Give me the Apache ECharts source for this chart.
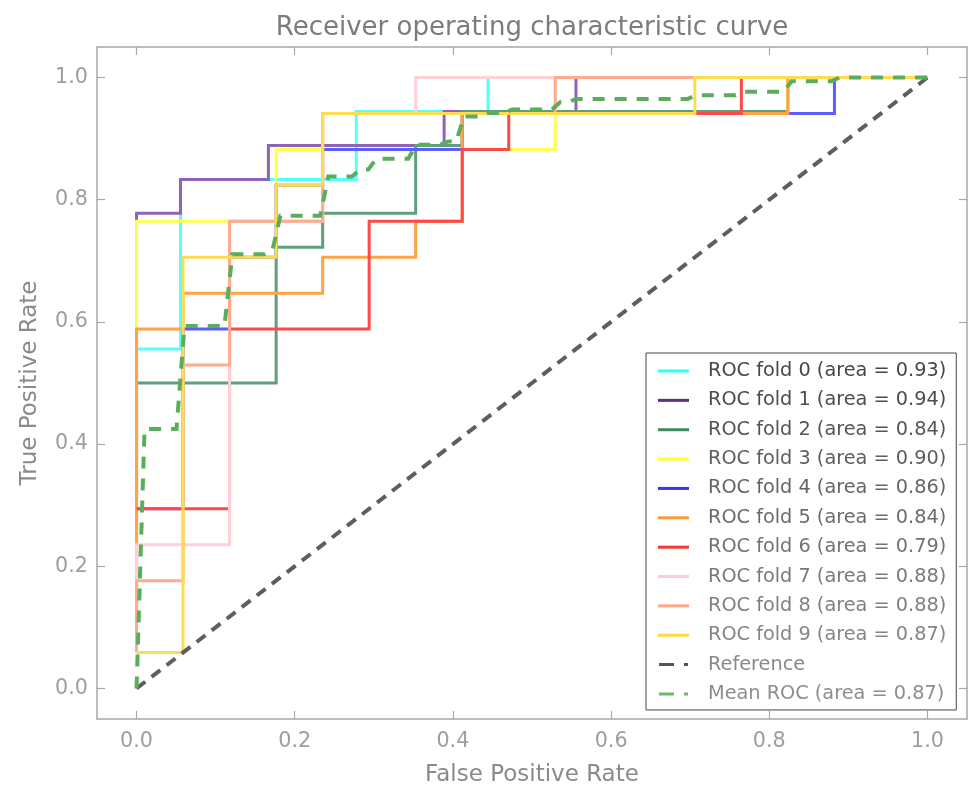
<!DOCTYPE html>
<html>
<head>
<meta charset="utf-8">
<script src="https://cdn.jsdelivr.net/npm/echarts@6/dist/echarts.min.js"></script>
<style>
html,body{margin:0;padding:0;background:#fff;}
#chart{width:972px;height:786px;}
</style>
</head>
<body>
<div id="chart"></div>
<script>
// ---- data ----
const titleText = 'Receiver operating characteristic curve';
const xAxisName = 'False Positive Rate';
const yAxisName = 'True Positive Rate';
const tickValues = [0, 0.2, 0.4, 0.6, 0.8, 1.0];
const tickLabels = ['0.0', '0.2', '0.4', '0.6', '0.8', '1.0'];

const seriesNames = [
  'ROC fold 0 (area = 0.93)', 'ROC fold 1 (area = 0.94)', 'ROC fold 2 (area = 0.84)',
  'ROC fold 3 (area = 0.90)', 'ROC fold 4 (area = 0.86)', 'ROC fold 5 (area = 0.84)',
  'ROC fold 6 (area = 0.79)', 'ROC fold 7 (area = 0.88)', 'ROC fold 8 (area = 0.88)',
  'ROC fold 9 (area = 0.87)', 'Reference', 'Mean ROC (area = 0.87)'
];

const fpr0 = [0, 0, 0.0556, 0.0556, 0.2778, 0.2778, 0.4444, 0.4444, 1];
const tpr0 = [0.1111, 0.5556, 0.5556, 0.8333, 0.8333, 0.9444, 0.9444, 1, 1];
const fpr1 = [0, 0, 0.0556, 0.0556, 0.1667, 0.1667, 0.3889, 0.3889, 0.5556, 0.5556, 1];
const tpr1 = [0.1111, 0.7778, 0.7778, 0.8333, 0.8333, 0.8889, 0.8889, 0.9444, 0.9444, 1, 1];
const fpr2 = [0, 0, 0.1765, 0.1765, 0.2353, 0.2353, 0.3529, 0.3529, 0.4118, 0.4118, 0.8235, 0.8235, 1];
const tpr2 = [0.1111, 0.5, 0.5, 0.7222, 0.7222, 0.7778, 0.7778, 0.8889, 0.8889, 0.9444, 0.9444, 1, 1];
const fpr3 = [0, 0, 0.1765, 0.1765, 0.5294, 0.5294, 0.8235, 0.8235, 1];
const tpr3 = [0.1176, 0.7647, 0.7647, 0.8824, 0.8824, 0.9412, 0.9412, 1, 1];
const fpr4 = [0, 0.0588, 0.0588, 0.1176, 0.1176, 0.1765, 0.1765, 0.2353, 0.2353, 0.4118, 0.4118, 0.8824, 0.8824, 1];
const tpr4 = [0.2941, 0.2941, 0.5882, 0.5882, 0.7059, 0.7059, 0.8235, 0.8235, 0.8824, 0.8824, 0.9412, 0.9412, 1, 1];
const fpr5 = [0, 0, 0.0588, 0.0588, 0.2353, 0.2353, 0.3529, 0.3529, 0.4118, 0.4118, 0.8235, 0.8235, 1];
const tpr5 = [0.1176, 0.5882, 0.5882, 0.6471, 0.6471, 0.7059, 0.7059, 0.7647, 0.7647, 0.9412, 0.9412, 1, 1];
const fpr6 = [0, 0.1176, 0.1176, 0.2941, 0.2941, 0.4118, 0.4118, 0.4706, 0.4706, 0.7647, 0.7647, 1];
const tpr6 = [0.2941, 0.2941, 0.5882, 0.5882, 0.7647, 0.7647, 0.8824, 0.8824, 0.9412, 0.9412, 1, 1];
const fpr7 = [0, 0, 0.1176, 0.1176, 0.2353, 0.2353, 0.3529, 0.3529, 1];
const tpr7 = [0.1176, 0.2353, 0.2353, 0.7647, 0.7647, 0.9412, 0.9412, 1, 1];
const fpr8 = [0, 0, 0.0588, 0.0588, 0.1176, 0.1176, 0.2353, 0.2353, 0.5294, 0.5294, 1];
const tpr8 = [0.0588, 0.1765, 0.1765, 0.5294, 0.5294, 0.7647, 0.7647, 0.9412, 0.9412, 1, 1];
const fpr9 = [0, 0.0588, 0.0588, 0.1765, 0.1765, 0.2353, 0.2353, 0.7059, 0.7059, 1];
const tpr9 = [0.0588, 0.0588, 0.7059, 0.7059, 0.8235, 0.8235, 0.9412, 0.9412, 1, 1];

const refFpr = [0, 1];
const refTpr = [0, 1];

const meanFpr = [0, 0.0101, 0.0505, 0.0606, 0.1111, 0.1212, 0.1616, 0.1717, 0.1818, 0.2323,
  0.2424, 0.2727, 0.2828, 0.2929, 0.3030, 0.3434, 0.3535, 0.3838, 0.3939, 0.4040,
  0.4141, 0.4343, 0.4444, 0.4646, 0.4747, 0.5253, 0.5354, 0.5455, 0.5556, 0.6970,
  0.7071, 0.7576, 0.7677, 0.8182, 0.8283, 0.8788, 0.8889, 1];
const meanTpr = [0, 0.4245, 0.4245, 0.5931, 0.5931, 0.7108, 0.7108, 0.7163, 0.7738, 0.7738,
  0.8382, 0.8382, 0.8493, 0.8493, 0.867, 0.867, 0.8899, 0.8899, 0.8954, 0.8954,
  0.9363, 0.9363, 0.9418, 0.9418, 0.9477, 0.9477, 0.9595, 0.9595, 0.965, 0.965,
  0.9709, 0.9709, 0.9768, 0.9768, 0.9941, 0.9941, 1, 1];

// ---- styling ----
const foldFpr = [fpr0, fpr1, fpr2, fpr3, fpr4, fpr5, fpr6, fpr7, fpr8, fpr9];
const foldTpr = [tpr0, tpr1, tpr2, tpr3, tpr4, tpr5, tpr6, tpr7, tpr8, tpr9];
const lineColors = ['#55ffff', '#8e63b8', '#5f9f7c', '#ffff50', '#5c5cff', '#ffa345',
  '#ff4848', '#ffd0d8', '#ffab8e', '#ffdb50'];
const legendSwatch = ['#30ffff', '#5c2c8f', '#3d8a5e', '#ffff33', '#3535ff', '#ff9a33',
  '#ff3535', '#ffccd5', '#ffa686', '#ffd940', '#555555', '#6cbb6c'];
const legendTextColors = ['#474747', '#4c4c4c', '#555555', '#5e5e5e', '#656565', '#6c6c6c',
  '#737373', '#7a7a7a', '#808080', '#858585', '#898989', '#8d8d8d'];

const FONT = 'DejaVu Sans';
const zip = (a, b) => a.map((v, i) => [v, b[i]]);

const series = [];
for (let i = 0; i < 10; i++) {
  series.push({
    name: seriesNames[i],
    type: 'line',
    data: zip(foldFpr[i], foldTpr[i]),
    showSymbol: false,
    symbol: 'none',
    color: lineColors[i],
    lineStyle: { width: 3, color: lineColors[i], join: 'miter', cap: 'butt' },
    silent: true
  });
}
series.push({
  name: seriesNames[10],
  type: 'line',
  data: zip(refFpr, refTpr),
  symbol: 'none',
  color: '#5a5a5a',
  lineStyle: { width: 4, color: '#5e5e5e', type: [11, 8] },
  silent: true
});
series.push({
  name: seriesNames[11],
  type: 'line',
  data: zip(meanFpr, meanTpr),
  symbol: 'none',
  color: '#5aad5a',
  lineStyle: { width: 4, color: '#5aad5a', type: [12, 10], join: 'miter' },
  silent: true
});

const dashIcon = 'path://M0,0H15V3H0Z M25,0H29V3H25Z';
const legendData = seriesNames.map((n, i) => ({
  name: n,
  icon: i < 10 ? 'rect' : dashIcon,
  itemStyle: { color: legendSwatch[i], opacity: 1 },
  textStyle: { color: legendTextColors[i] }
}));

const axisCommon = {
  type: 'value',
  min: -0.05,
  max: 1.05,
  splitLine: { show: false },
  axisLine: { show: true, onZero: false, lineStyle: { color: '#a8a8a8', width: 1.5 } },
  axisTick: { show: true, inside: true, length: 8, customValues: tickValues, lineStyle: { color: '#a8a8a8', width: 1.2 } },
};
const fmt = v => tickLabels[tickValues.findIndex(t => Math.abs(t - v) < 1e-9)] || '';

const option = {
  animation: false,
  backgroundColor: '#ffffff',
  title: {
    text: titleText,
    left: 532,
    textAlign: 'center',
    top: 15,
    padding: 0,
    textStyle: { fontFamily: FONT, fontSize: 26, fontWeight: 'normal', color: '#7c7c7c' }
  },
  grid: { left: 97, top: 47, width: 870, height: 672, containLabel: false, outerBoundsMode: 'none' },
  legend: {
    orient: 'vertical',
    left: 646,
    top: 353,
    padding: [7, 10, 5, 12],
    itemWidth: 31,
    itemHeight: 3,
    itemGap: 7.36,
    backgroundColor: '#ffffff',
    borderColor: '#444444',
    borderWidth: 1,
    borderRadius: 0,
    selectedMode: false,
    textStyle: { fontFamily: FONT, fontSize: 19.3, lineHeight: 22, padding: [0, 0, 0, 14] },
    data: legendData
  },
  xAxis: [
    Object.assign({}, axisCommon, {
      position: 'bottom',
      name: xAxisName,
      nameLocation: 'middle',
      nameGap: 45,
      nameTextStyle: { fontFamily: FONT, fontSize: 23, color: '#8a8a8a' },
      axisLabel: { show: true, customValues: tickValues, formatter: fmt, margin: 12,
        fontFamily: FONT, fontSize: 20.7, color: '#9e9e9e' }
    }),
    Object.assign({}, axisCommon, {
      position: 'top',
      axisLabel: { show: false }
    })
  ],
  yAxis: [
    Object.assign({}, axisCommon, {
      position: 'left',
      name: yAxisName,
      nameLocation: 'middle',
      nameGap: 55,
      nameTextStyle: { fontFamily: FONT, fontSize: 23, color: '#8a8a8a' },
      axisLabel: { show: true, customValues: tickValues, formatter: fmt, margin: 9,
        fontFamily: FONT, fontSize: 20.7, color: '#9e9e9e' }
    }),
    Object.assign({}, axisCommon, {
      position: 'right',
      axisLabel: { show: false }
    })
  ],
  series: series
};

const chart = echarts.init(document.getElementById('chart'), null, { renderer: 'canvas' });
chart.setOption(option);
</script>
</body>
</html>
